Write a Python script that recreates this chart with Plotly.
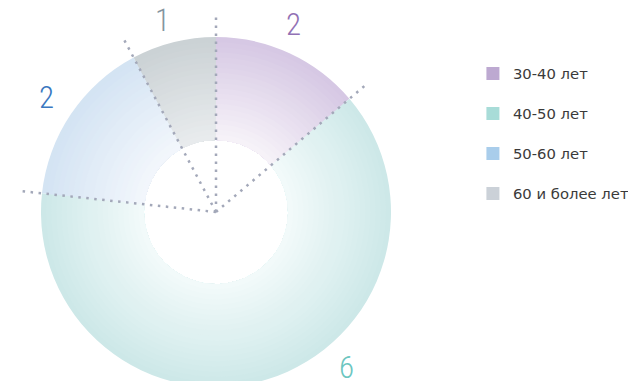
import math
import plotly.graph_objects as go

# ---- data ----
age_groups = ["30-40 лет", "40-50 лет", "50-60 лет", "60 и более лет"]
counts = [2, 6, 2, 1]                      # numbers printed beside the slices
slice_shares = [13.8, 62.9, 15.5, 7.8]     # angular share of each slice (%)

# ---- styles ----
legend_colors = ["#bda9d1", "#a8dcd8", "#a9cdeb", "#cbd1d8"]
outer_colors = [(213, 199, 227), (204, 232, 232), (211, 227, 243), (202, 209, 212)]
inner_colors = [(247, 243, 249), (243, 250, 250), (243, 247, 252), (233, 236, 238)]
label_colors = ["#9272b5", "#6cc6c0", "#3a78c0", "#8595a0"]

W, H = 636, 381
CX, CY = 208, 204      # donut centre (px from figure top-left)
R_OUT = 175
R_IN = 72
R_LINE = 200
N = 20

def mix(a, b, t):
    return "rgb(%d,%d,%d)" % tuple(round(a[i] + (b[i] - a[i]) * t) for i in range(3))

fig = go.Figure()

# radial gradient imitated by stacked rings of the same pie
for k in range(N):
    r = R_OUT - k * (R_OUT - R_IN) / N
    r_next = R_OUT - (k + 1) * (R_OUT - R_IN) / N
    t = ((r + r_next) / 2 - R_IN) / (R_OUT - R_IN)
    cols = [mix(inner_colors[i], outer_colors[i], t) for i in range(len(age_groups))]
    fig.add_trace(go.Pie(
        values=slice_shares, labels=age_groups, sort=False,
        direction="clockwise", rotation=0, hole=R_IN / r,
        marker=dict(colors=cols, line=dict(width=0)),
        textinfo="none", hoverinfo="label", showlegend=False,
        domain=dict(x=[(CX - r) / W, (CX + r) / W],
                    y=[max(0, 1 - (CY + r) / H), min(1, 1 - (CY - r) / H)]),
    ))

# legend entries
for name, c in zip(age_groups, legend_colors):
    fig.add_trace(go.Scatter(x=[None], y=[None], mode="markers", name=name,
                             legendgroup=name,
                             marker=dict(symbol="square", size=13, color=c)))

# dotted boundary lines and value labels
total = sum(slice_shares)
bounds = [0]
for v in slice_shares:
    bounds.append(bounds[-1] + v / total * 360)

shapes = []
for a in bounds[:-1]:
    th = math.radians(a)
    shapes.append(dict(type="line", xref="paper", yref="paper",
                       x0=CX / W, y0=1 - CY / H,
                       x1=(CX + R_LINE * math.sin(th)) / W,
                       y1=1 - (CY - R_LINE * math.cos(th)) / H,
                       line=dict(color="#a3a8b9", width=2.5, dash="2.5px,5.5px"),
                       layer="above"))

label_angles = [(bounds[i] + bounds[i + 1]) / 2 for i in range(len(counts))]
label_angles[0] = 22.5  # slight nudge as in the original
label_angles[1] = 140   # the "6" is moved up so it stays in view
label_angles[3] = 344.3
label_radii = [203, 203, 204, 199]

annotations = []
for i, n in enumerate(counts):
    th = math.radians(label_angles[i])
    annotations.append(dict(
        xref="paper", yref="paper", showarrow=False,
        x=(CX + label_radii[i] * math.sin(th)) / W,
        y=1 - (CY - label_radii[i] * math.cos(th)) / H,
        text=str(n), xanchor="center", yanchor="middle",
        font=dict(family="Roboto Condensed, Roboto, sans-serif", size=31,
                  color=label_colors[i], weight=300)))

fig.update_layout(
    width=W, height=H, margin=dict(l=0, r=0, t=0, b=0),
    paper_bgcolor="white", plot_bgcolor="white",
    xaxis=dict(visible=False), yaxis=dict(visible=False),
    shapes=shapes, annotations=annotations,
    legend=dict(x=0.731, y=0.8706, xanchor="left", yanchor="top",
                tracegroupgap=17.8, bgcolor="rgba(0,0,0,0)",
                font=dict(family="DejaVu Sans, sans-serif",
                          size=14.8, color="#3a3a3a")),
)

fig.write_html("out.html")
